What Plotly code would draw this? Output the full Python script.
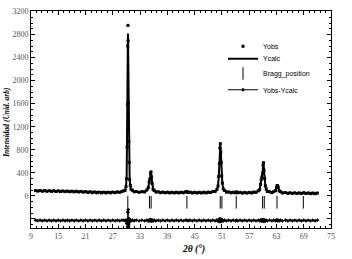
import plotly.graph_objects as go

# ---- data ----
two_theta = [10, 10.5, 11, 11.5, 12, 12.5, 13, 13.5, 14, 14.5, 15, 15.5, 16, 16.5, 17, 17.5, 18, 18.5, 19, 19.5,
             20, 20.5, 21, 21.5, 22, 22.5, 23, 23.5, 24, 24.5, 25, 25.5, 26, 26.5, 27, 27.5, 28, 28.5, 29,
             29.4, 29.7, 29.9, 30.05, 30.15, 30.22, 30.28, 30.33, 30.38, 30.45, 30.52, 30.6, 30.7, 30.85, 31.0,
             31.3, 31.7, 32.2, 32.8, 33.4, 34.0,
             34.5, 34.8, 35.0, 35.15, 35.3, 35.4, 35.5, 35.65, 35.85, 36.1, 36.5, 37, 37.5, 38, 38.5, 39, 39.5,
             40, 40.5, 41, 41.5, 42, 42.5, 43, 43.3, 43.6, 44, 44.5, 45, 45.5, 46, 46.5, 47, 47.5, 48, 48.5, 49, 49.5,
             49.9, 50.15, 50.3, 50.45, 50.55, 50.65, 50.75, 50.85, 50.95, 51.1, 51.3, 51.6, 52, 52.5, 53, 53.5,
             54, 54.2, 54.5, 55, 55.5, 56, 56.5, 57, 57.5, 58, 58.5, 59, 59.3,
             59.5, 59.65, 59.8, 59.95, 60.05, 60.15, 60.25, 60.4, 60.55, 60.75, 61, 61.5, 62, 62.4, 62.8, 63.0,
             63.15, 63.25, 63.4, 63.6, 63.9, 64.3, 65, 65.5, 66, 66.5, 67, 67.5, 68, 68.5, 69, 69.5, 70, 70.5,
             71, 71.5, 72]

y_calc = [86, 85, 85, 84, 84, 83, 83, 82, 82, 81, 80, 79, 78, 77, 76, 75, 74, 73, 72, 71,
          70, 68, 66, 64, 62, 60, 58, 57, 56, 55, 55, 55, 56, 57, 58, 60, 62, 65, 70,
          80, 100, 150, 350, 900, 1700, 2450, 2820, 2500, 1700, 1000, 550, 300, 170, 120,
          90, 75, 68, 65, 66, 72,
          95, 150, 230, 300, 370, 400, 340, 200, 120, 85, 70, 63, 60, 58, 57, 56, 56,
          55, 55, 55, 55, 56, 58, 62, 68, 62, 57, 55, 54, 54, 54, 54, 55, 56, 58, 62, 68, 80,
          100, 180, 320, 580, 800, 880, 780, 560, 360, 210, 125, 85, 68, 60, 57, 56,
          58, 62, 57, 54, 52, 52, 52, 53, 55, 58, 65, 80, 110,
          190, 290, 310, 400, 520, 560, 460, 290, 180, 110, 80, 64, 60, 66, 95, 140,
          170, 175, 140, 90, 65, 55, 50, 48, 47, 46, 46, 45, 45, 46, 48, 46, 44, 43,
          42, 42, 41]

y_obs = [92, 80, 91, 78, 90, 77, 89, 76, 88, 75, 86, 73, 84, 72, 82, 70, 80, 68, 78, 65,
         76, 62, 72, 58, 68, 54, 64, 51, 62, 49, 61, 49, 62, 51, 64, 54, 68, 59, 76,
         86, 94, 160, 300, 850, 1590, 2600, 2960, 2690, 1600, 940, 580, 280, 180, 114,
         96, 70, 74, 59, 72, 66,
         101, 140, 240, 290, 385, 415, 330, 210, 112, 91, 64, 69, 54, 64, 51, 62, 50,
         61, 49, 61, 49, 62, 52, 68, 74, 56, 63, 49, 60, 48, 60, 48, 61, 50, 64, 56, 74, 74,
         108, 170, 335, 560, 830, 905, 760, 580, 345, 220, 118, 91, 62, 66, 51, 62,
         52, 68, 51, 60, 46, 58, 46, 59, 49, 64, 59, 86, 104,
         200, 280, 325, 390, 535, 575, 445, 300, 172, 116, 74, 70, 54, 72, 89, 150,
         178, 168, 146, 84, 71, 49, 56, 42, 53, 40, 52, 39, 51, 40, 54, 40, 50, 37,
         48, 36, 47]

bragg_position = [30.30, 35.06, 35.43, 43.30, 50.63, 51.00, 54.15, 59.95, 60.32, 63.12, 68.91]
bragg_level = -113
diff_offset = -430

y_ticks = [-400, 0, 400, 800, 1200, 1600, 2000, 2400, 2800, 3200]
y_tick_text = ["", "0", "400", "800", "1200", "1600", "2000", "2400", "2800", "3200"]
x_ticks = [9, 15, 21, 27, 33, 39, 45, 51, 57, 63, 69, 75]

y_diff = [o - c + diff_offset for o, c in zip(y_obs, y_calc)]

fig = go.Figure()
fig.add_trace(go.Scatter(x=two_theta, y=y_obs, mode="markers", name="Yobs", legend="legend",
                         marker=dict(symbol="square", size=3, color="black")))
fig.add_trace(go.Scatter(x=two_theta, y=y_calc, mode="lines", name="Ycalc", legend="legend2",
                         line=dict(color="black", width=2)))
fig.add_trace(go.Scatter(x=bragg_position, y=[bragg_level] * len(bragg_position), mode="markers",
                         name="Bragg_position", legend="legend3",
                         marker=dict(symbol="line-ns-open", size=9, color="black",
                                     line=dict(color="black", width=1))))
fig.add_trace(go.Scatter(x=two_theta, y=y_diff, mode="lines+markers", name="Yobs-Ycalc", legend="legend4",
                         line=dict(color="black", width=1),
                         marker=dict(symbol="diamond", size=3, color="black")))

tick_font = dict(family="Liberation Serif", size=8, color="#555555")
fig.update_xaxes(range=[9, 75], tickmode="array", tickvals=x_ticks, ticks="inside", ticklen=4,
                 tickcolor="black", showline=True, linecolor="black", linewidth=1, mirror="ticks",
                 showgrid=False, zeroline=False, tickfont=tick_font,
                 minor=dict(dtick=1.2, tick0=9, ticks="inside", ticklen=2, tickcolor="black"))
fig.update_yaxes(range=[-560, 3210], tickmode="array", tickvals=y_ticks, ticktext=y_tick_text,
                 ticks="inside", ticklen=4, tickcolor="black", showline=True, linecolor="black",
                 linewidth=1, mirror="ticks", showgrid=False, zeroline=False, tickfont=tick_font,
                 minor=dict(dtick=100, tick0=0, ticks="inside", ticklen=2, tickcolor="black"))

fig.add_annotation(x=0.54, y=-0.10, xref="paper", yref="paper", text="<b><i>2θ (°)</i></b>",
                   showarrow=False, font=dict(family="Liberation Serif", size=9.5, color="black"),
                   yanchor="middle")
fig.add_annotation(x=-0.058, y=0.485, xref="paper", yref="paper",
                   text="<b><i>Intensidad (Unid. arb)</i></b>", textangle=-90, showarrow=False,
                   font=dict(family="Liberation Serif", size=7.5, color="black"), xanchor="right")

leg_font = dict(family="Liberation Sans", size=7, color="black")
leg_common = dict(x=0.64, xanchor="left", yanchor="middle", bgcolor="rgba(0,0,0,0)",
                  font=leg_font, itemwidth=30)
fig.update_layout(template="none", width=352, height=259,
                  margin=dict(l=31, r=21, t=11, b=31, autoexpand=False),
                  paper_bgcolor="white", plot_bgcolor="white", showlegend=True,
                  font=dict(family="Liberation Sans", color="black"),
                  legend=dict(y=0.837, **leg_common),
                  legend2=dict(y=0.78, **leg_common),
                  legend3=dict(y=0.712, **leg_common),
                  legend4=dict(y=0.637, **leg_common))

fig.write_html("out.html", config={"displayModeBar": False},
               post_script="document.body.style.margin='0';document.body.style.overflow='hidden';")
